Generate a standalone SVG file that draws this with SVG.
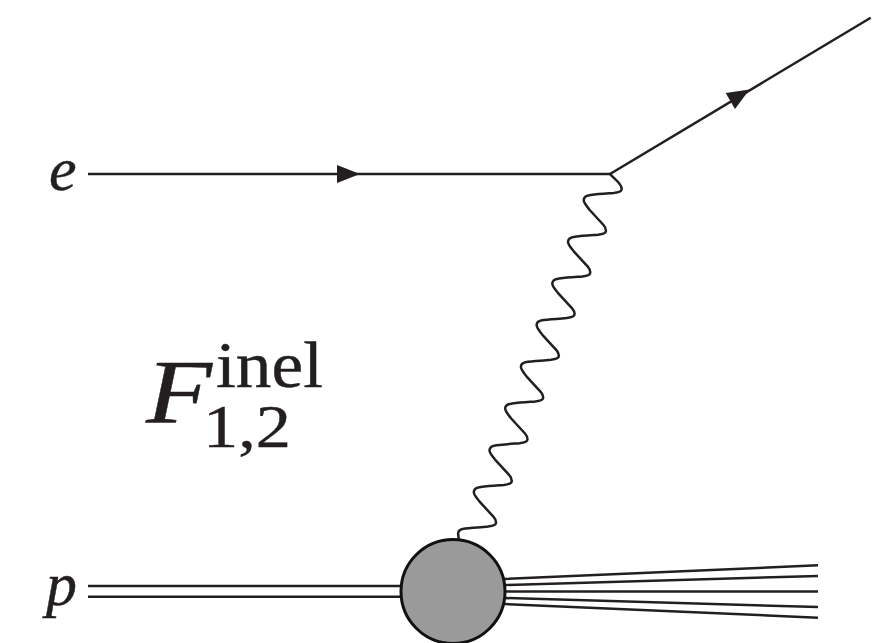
<svg xmlns="http://www.w3.org/2000/svg" width="888" height="643" viewBox="0 0 888 643">
<style>
.l{fill:none;stroke:#231f20;stroke-width:2.5}
.w{fill:none;stroke:#231f20;stroke-width:2.5;stroke-linecap:round;stroke-linejoin:round}
.a{fill:#231f20;stroke:none}
text{font-family:"Liberation Serif","Times New Roman",serif;fill:#231f20;stroke:#231f20;stroke-width:.4}
.m{font-style:italic}
</style>
<rect width="888" height="643" fill="#fff"/>
<g id="connectors">
<path id="electron-in" class="l" d="M88 174H610"/>
<polygon class="a" points="337,165 360,174 337,183"/>
<path id="electron-out" class="l" d="M610 174L870.7 17.700"/>
<polygon class="a" points="725.7,93 749.5,89.5 735,109"/>
<path id="photon" class="w" d="M610 174c3,4 11.7,9 11.7,15
c0,2.500 -3,3.500 -8,4c-8,.6 -15,1 -23,2c-5,.6 -7,2 -7,5c0,3 3,6 6,10l13.8,15c1.700,1.900 2.500,3.300 2.500,5.700
c0,2.500 -3,3.500 -8,4c-8,.6 -15,1 -23,2c-5,.6 -7,2 -7,5c0,3 3,6 6,10l13.8,15c1.700,1.900 2.500,3.300 2.500,5.700
c0,2.500 -3,3.500 -8,4c-8,.6 -15,1 -23,2c-5,.6 -7,2 -7,5c0,3 3,6 6,10l13.8,15c1.700,1.900 2.500,3.300 2.500,5.700
c0,2.500 -3,3.500 -8,4c-8,.6 -15,1 -23,2c-5,.6 -7,2 -7,5c0,3 3,6 6,10l13.8,15c1.700,1.900 2.500,3.300 2.500,5.700
c0,2.500 -3,3.500 -8,4c-8,.6 -15,1 -23,2c-5,.6 -7,2 -7,5c0,3 3,6 6,10l13.8,15c1.700,1.900 2.500,3.300 2.500,5.700
c0,2.500 -3,3.500 -8,4c-8,.6 -15,1 -23,2c-5,.6 -7,2 -7,5c0,3 3,6 6,10l13.8,15c1.700,1.900 2.500,3.300 2.500,5.700
c0,2.500 -3,3.500 -8,4c-8,.6 -15,1 -23,2c-5,.6 -7,2 -7,5c0,3 3,6 6,10l13.8,15c1.700,1.900 2.500,3.300 2.500,5.700
c0,2.500 -3,3.500 -8,4c-8,.6 -15,1 -23,2c-5,.6 -7,2 -7,5c0,3 3,6 6,10l13.8,15c1.700,1.900 2.500,3.300 2.500,5.700
c0,2.500 -3,3.500 -8,4c-8,.6 -15,1 -23,2c-5,.6 -7,2 -7,5c0,3 .5,5 1.500,7"/>
<path id="proton-in" class="l" d="M88 586H402M88 596.700H402"/>
<path id="hadrons" class="l" d="M504 579L818 565.300M504 585L818 576M504 591.600H818M504 598L818 607M504 604L818 617.700"/>
</g>
<g id="blob"><circle cx="453" cy="591.500" r="52" fill="#9a9a9a" stroke="#111" stroke-width="3"/></g>
<g id="label-e"><text class="m" x="49" y="190" font-size="62">e</text></g>
<g id="label-p"><text class="m" x="46" y="605" font-size="62">p</text></g>
<g id="label-F">
<text class="m" x="146" y="423" font-size="91" textLength="66" lengthAdjust="spacingAndGlyphs">F</text>
<text x="216" y="387" font-size="65" textLength="107" lengthAdjust="spacingAndGlyphs">inel</text>
<text x="203" y="447" font-size="62" textLength="88" lengthAdjust="spacingAndGlyphs">1,2</text>
</g>
</svg>
